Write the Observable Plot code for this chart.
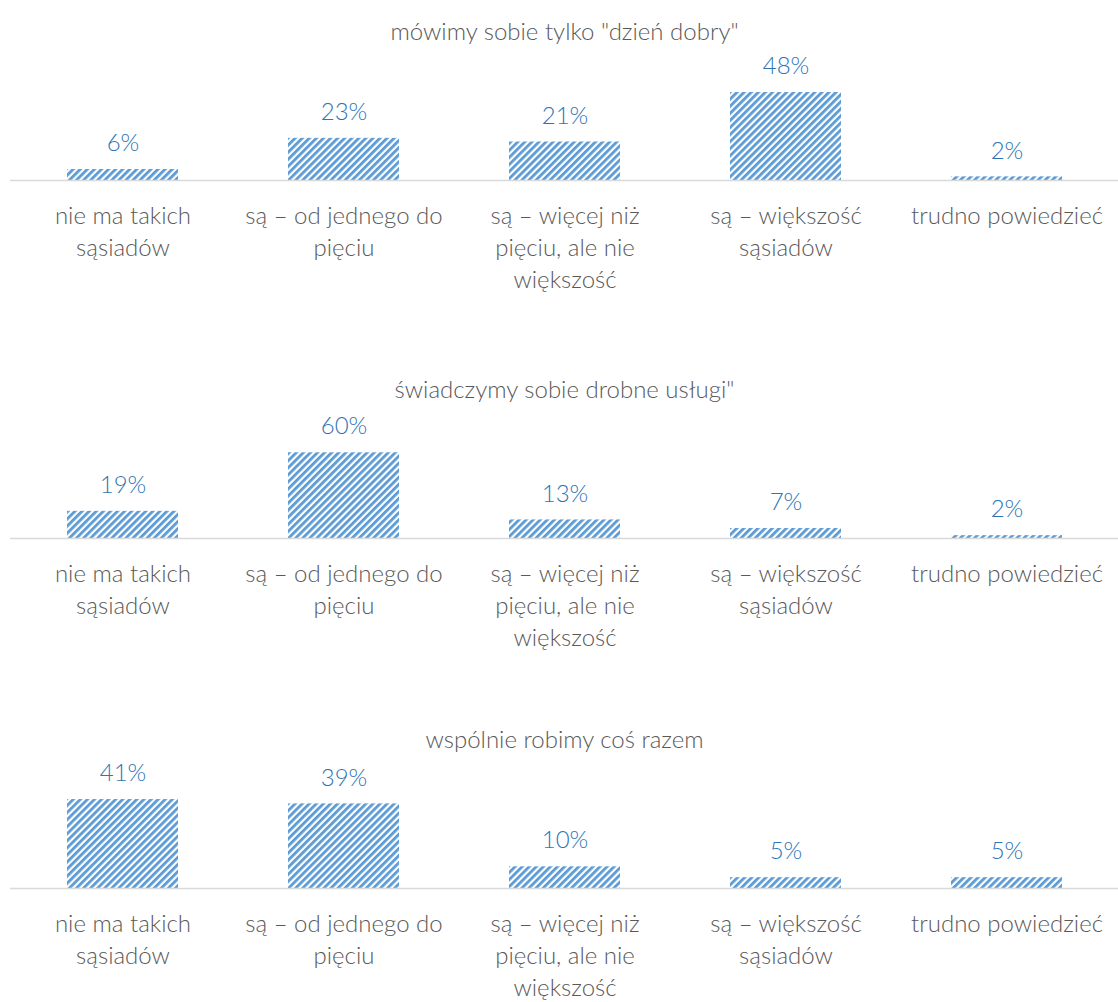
<!DOCTYPE html>
<html>
<head>
<meta charset="utf-8">
<script src="https://cdn.jsdelivr.net/npm/d3@7"></script>
<script src="https://cdn.jsdelivr.net/npm/@observablehq/plot@0.6"></script>
<style>
  html, body { margin: 0; padding: 0; background: #fff; }
  #root { position: relative; width: 1118px; height: 1002px; overflow: hidden; background: #fff; }
  #root .panel { position: absolute; left: 0; }
  #root svg { overflow: visible; }
</style>
</head>
<body>
<div id="root"></div>
<script>
// ---- data ----
const categories = [
  "nie ma takich sąsiadów",
  "są – od jednego do pięciu",
  "są – więcej niż pięciu, ale nie większość",
  "są – większość sąsiadów",
  "trudno powiedzieć"
];
const tickLabels = [
  "nie ma takich\nsąsiadów",
  "są – od jednego do\npięciu",
  "są – więcej niż\npięciu, ale nie\nwiększość",
  "są – większość\nsąsiadów",
  "trudno powiedzieć"
];
const panelTitles = [
  "mówimy sobie tylko \"dzień dobry\"",
  "świadczymy sobie drobne usługi\"",
  "wspólnie robimy coś razem"
];
const dzienDobry = [6, 23, 21, 48, 2];
const drobneUslugi = [19, 60, 13, 7, 2];
const robimyRazem = [41, 39, 10, 5, 5];
const axisMax = [60, 77, 50.7];

// ---- layout / style ----
const FONT = "Lato, 'Open Sans', sans-serif";
const TEXT = "#595959";
const BLUE_TEXT = "#2E75B6";
const BAR_BLUE = "#5B9BD5";
const panelTops = [0, 358, 708];
const panelHeights = [358, 358, 294];
const series = [dzienDobry, drobneUslugi, robimyRazem];

const root = document.getElementById("root");

series.forEach((vals, i) => {
  const data = categories.map((c, j) => ({category: c, label: tickLabels[j], value: vals[j]}));
  const H = panelHeights[i];
  const pid = "stripes" + i;
  const svg = Plot.plot({
    width: 1118,
    height: H,
    marginTop: 70,
    marginBottom: H - 180,
    marginLeft: 10,
    marginRight: 0,
    x: {type: "band", domain: categories, paddingInner: 0.5, paddingOuter: 0.25, axis: null},
    y: {domain: [0, axisMax[i]], axis: null},
    style: {fontFamily: FONT, fontSize: "24px", fontWeight: 300, color: TEXT, background: "transparent", overflow: "visible"},
    marks: [
      Plot.barY(data, {x: "category", y: "value", fill: `url(#${pid})`}),
      Plot.ruleY([0], {stroke: "#d9d9d9", strokeWidth: 1.5}),
      Plot.text(data, {x: "category", y: "value", text: d => d.value + "%", dy: -26, fill: BLUE_TEXT, fontSize: 24, fontWeight: 300}),
      Plot.text(data, {x: "category", y: 0, text: "label", lineAnchor: "top", dy: 21, lineHeight: 1.33, fill: TEXT, fontSize: 24, fontWeight: 300}),
      Plot.text([panelTitles[i]], {frameAnchor: "top", dy: -48, text: d => d, fill: TEXT, fontSize: 24, fontWeight: 300})
    ]
  });
  // hatch pattern
  const P = 5;
  const defs = d3.select(svg).insert("defs", ":first-child");
  const pat = defs.append("pattern")
    .attr("id", pid)
    .attr("patternUnits", "userSpaceOnUse")
    .attr("width", P)
    .attr("height", P)
    .attr("patternTransform", "rotate(45)");
  pat.append("rect").attr("width", P).attr("height", P).attr("fill", "#ffffff");
  pat.append("rect").attr("width", 2.8).attr("height", P).attr("fill", BAR_BLUE);

  const wrap = document.createElement("div");
  wrap.className = "panel";
  wrap.style.top = panelTops[i] + "px";
  wrap.appendChild(svg);
  root.appendChild(wrap);
});
</script>
</body>
</html>
